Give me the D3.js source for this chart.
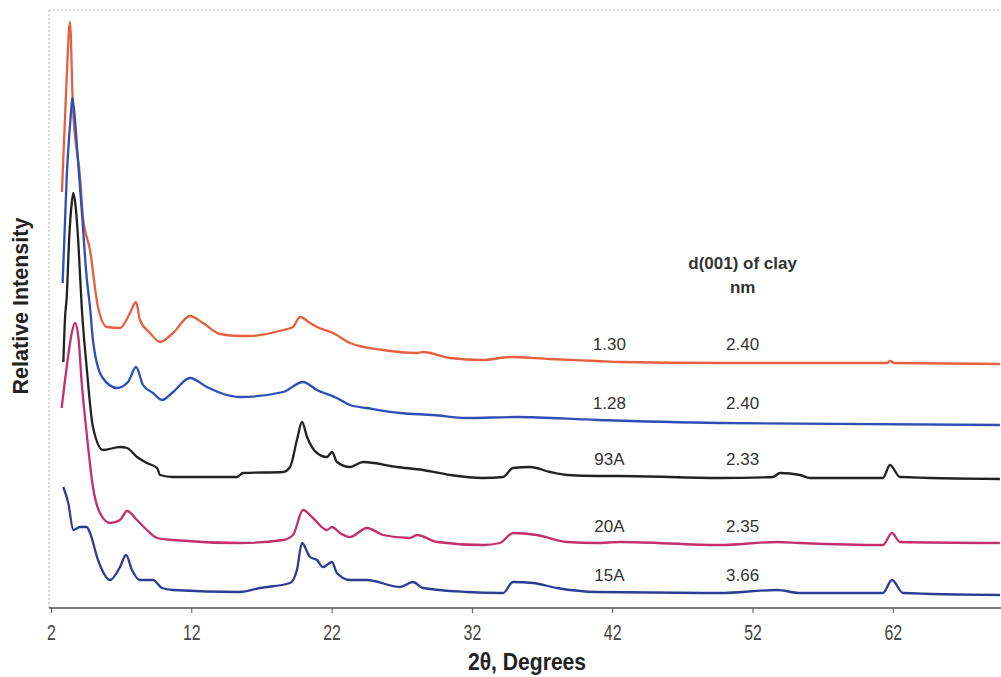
<!DOCTYPE html>
<html>
<head>
<meta charset="utf-8">
<script src="https://cdn.jsdelivr.net/npm/d3@7"></script>
<style>
  body { margin: 0; background: #fff; }
  svg { display: block; }
</style>
</head>
<body>
<div class="chart-container"></div>
<script>
const SVG_WIDTH = 1001;
const SVG_HEIGHT = 677;

// sample names and d(001) spacings, top trace first
const sample_labels = ["1.30", "1.28", "93A", "20A", "15A"];
const d_spacings = ["2.40", "2.40", "2.33", "2.35", "3.66"];
const trace_colours = ["#e5603f", "#2d4fb3", "#222222", "#c2306c", "#2e3d94"];

const x_ticks = [2, 12, 22, 32, 42, 52, 62];

// [2theta, relative intensity]
const trace_130 = [
    [2.78,416],[3.12,531],[3.35,586],[3.57,498],[4.07,431],[4.28,391],[4.78,358],[5.35,301],
    [5.99,281],[6.92,280],[7.63,295],[8.06,306],[8.34,288],[9.06,275],[9.77,266],[10.70,275],
    [11.91,292],[12.83,285],[14.05,274],[15.47,272],[16.18,272],[18.54,278],[19.25,281],
    [19.75,291],[20.46,285],[20.96,281],[22.10,275],[23.31,265],[25.66,258],[28.09,255],
    [28.51,256],[30.44,250],[32.79,248],[34.72,251],[37.57,249],[40.92,247],[42.56,246],
    [49.68,245],[55.39,245],[61.59,245],[61.80,247],[62.10,245],[69.64,244]
];
const trace_128 = [
    [2.83,325],[3.12,431],[3.40,491],[3.52,510],[3.71,488],[3.92,448],[4.19,398],[4.54,331],
    [4.78,301],[4.99,268],[5.64,231],[6.70,220],[7.49,226],[8.06,241],[8.56,223],[9.27,215],
    [9.91,208],[10.70,216],[11.91,230],[13.12,221],[14.54,213],[15.47,211],[18.54,216],
    [19.96,226],[20.96,218],[22.38,210],[23.31,203],[24.52,200],[26.87,195],[29.23,193],
    [31.65,190],[35.21,191],[40.92,188],[49.68,185],[69.64,183]
];
const trace_93a = [
    [2.88,246],[3.00,290],[3.12,311],[3.30,371],[3.48,405],[3.59,415],[3.78,398],[3.95,365],
    [4.19,301],[4.54,241],[4.99,181],[5.71,158],[6.92,161],[7.42,160],[8.13,151],[8.84,145],
    [9.56,140],[9.77,133],[10.70,131],[15.26,131],[15.68,135],[18.54,136],[19.04,141],
    [19.53,168],[19.89,186],[20.25,171],[20.96,155],[21.67,151],[22.03,156],[22.38,146],
    [23.31,141],[24.24,146],[26.66,141],[28.51,138],[30.44,133],[32.79,130],[34.22,131],
    [34.93,140],[36.14,141],[37.57,136],[38.78,133],[40.92,132],[42.56,132],[49.68,130],
    [53.46,131],[53.96,135],[55.39,133],[56.10,130],[61.30,130],[61.80,143],[62.51,131],
    [69.64,129]
];
const trace_20a = [
    [2.76,200],[3.12,241],[3.48,275],[3.71,285],[3.95,271],[4.19,225],[4.54,175],[4.99,121],
    [5.49,95],[6.21,85],[6.92,88],[7.42,97],[8.13,88],[8.84,78],[9.56,70],[10.70,68],
    [15.47,65],[18.54,68],[19.25,73],[19.96,98],[20.67,90],[21.67,78],[22.03,81],[22.60,75],
    [23.31,71],[24.52,80],[25.66,73],[27.59,70],[28.09,73],[29.51,66],[32.79,63],[34.00,65],
    [34.93,75],[36.64,73],[38.78,66],[40.92,65],[42.56,66],[49.68,63],[53.75,66],[55.39,65],
    [61.30,63],[61.94,75],[62.51,66],[69.64,65]
];
const trace_15a = [
    [2.88,121],[3.23,105],[3.59,78],[4.07,81],[4.54,81],[4.78,75],[5.35,48],[6.21,28],
    [6.92,41],[7.35,53],[7.77,38],[8.34,28],[9.27,28],[9.91,20],[10.70,18],[15.47,16],
    [16.90,20],[19.04,25],[19.53,38],[19.89,65],[20.46,51],[20.96,48],[21.39,41],[22.03,46],
    [22.38,35],[23.31,28],[24.52,28],[26.87,21],[27.80,26],[28.51,20],[31.65,16],[34.22,15],
    [34.93,26],[36.36,25],[38.07,20],[40.92,16],[49.68,15],[53.75,18],[55.39,15],[61.30,15],
    [61.94,28],[62.73,15],[69.64,13]
];

const traces = [trace_130, trace_128, trace_93a, trace_20a, trace_15a];

const svg = d3.select(".chart-container")
    .append("svg")
    .attr("width", SVG_WIDTH)
    .attr("height", SVG_HEIGHT);

const plot = { left: 51, right: 1005, top: 10, bottom: 608 };

const x = d3.scaleLinear().domain([2, 70]).range([plot.left, plot.right]);
const y = d3.scaleLinear().domain([0, 598]).range([plot.bottom, plot.top]);

// dotted frame on top and left
svg.append("line")
    .attr("x1", plot.left - 2).attr("x2", SVG_WIDTH)
    .attr("y1", plot.top).attr("y2", plot.top)
    .attr("stroke", "#b5b5b5")
    .attr("stroke-dasharray", "2,2");
svg.append("line")
    .attr("x1", plot.left - 2).attr("x2", plot.left - 2)
    .attr("y1", plot.top).attr("y2", plot.bottom)
    .attr("stroke", "#b5b5b5")
    .attr("stroke-dasharray", "2,2");

const line = d3.line()
    .curve(d3.curveMonotoneX)
    .x(d => x(d[0]))
    .y(d => y(d[1]));

traces.forEach((t, i) => {
    svg.append("path")
        .datum(t)
        .attr("fill", "none")
        .attr("stroke", trace_colours[i])
        .attr("stroke-width", 2.3)
        .attr("stroke-linejoin", "round")
        .attr("d", line);
});

// x axis
const xAxis = d3.axisBottom(x)
    .tickValues(x_ticks)
    .tickSize(5)
    .tickFormat(d3.format("d"));

const axisG = svg.append("g")
    .attr("transform", `translate(0, ${plot.bottom})`)
    .call(xAxis);

axisG.select(".domain")
    .attr("stroke", "#555")
    .attr("stroke-width", 1.5)
    .attr("d", `M${plot.left - 2},0H${SVG_WIDTH}`);
axisG.selectAll(".tick line").attr("stroke", "#555");
axisG.selectAll(".tick text")
    .attr("y", 16)
    .attr("dy", "0.71em")
    .attr("transform", "scale(0.72,1)")
    .attr("fill", "#444")
    .style("font-family", "'Liberation Sans', Arial, sans-serif")
    .style("font-size", "22px");

// titles
svg.append("text")
    .attr("transform", "translate(527, 670) scale(0.88,1)")
    .attr("text-anchor", "middle")
    .attr("fill", "#222")
    .style("font-family", "'Liberation Sans', Arial, sans-serif")
    .style("font-weight", "bold")
    .style("font-size", "24px")
    .text("2θ, Degrees");

svg.append("text")
    .attr("transform", "translate(28, 306) rotate(-90)")
    .attr("text-anchor", "middle")
    .attr("fill", "#222")
    .style("font-family", "'Liberation Sans', Arial, sans-serif")
    .style("font-weight", "bold")
    .style("font-size", "21.5px")
    .text("Relative Intensity");

// d(001) annotation
const labelFont = "'Liberation Sans', Arial, sans-serif";
const col1 = 41.8;
const col2 = 51.3;

svg.append("text")
    .attr("x", x(col2))
    .attr("y", 269)
    .attr("text-anchor", "middle")
    .attr("fill", "#333")
    .style("font-family", labelFont)
    .style("font-weight", "bold")
    .style("font-size", "17px")
    .text("d(001) of clay");
svg.append("text")
    .attr("x", x(col2))
    .attr("y", 293)
    .attr("text-anchor", "middle")
    .attr("fill", "#333")
    .style("font-family", labelFont)
    .style("font-weight", "bold")
    .style("font-size", "17px")
    .text("nm");

traces.forEach((t, i) => {
    const tail = t.find(d => d[0] >= 40);
    const ly = y(tail[1]) - 15;
    svg.append("text")
        .attr("x", x(col1))
        .attr("y", ly)
        .attr("text-anchor", "middle")
        .attr("dominant-baseline", "middle")
        .attr("fill", "#333")
        .style("font-family", labelFont)
        .style("font-size", "17px")
        .text(sample_labels[i]);
    svg.append("text")
        .attr("x", x(col2))
        .attr("y", ly)
        .attr("text-anchor", "middle")
        .attr("dominant-baseline", "middle")
        .attr("fill", "#333")
        .style("font-family", labelFont)
        .style("font-size", "17px")
        .text(d_spacings[i]);
});
</script>
</body>
</html>
